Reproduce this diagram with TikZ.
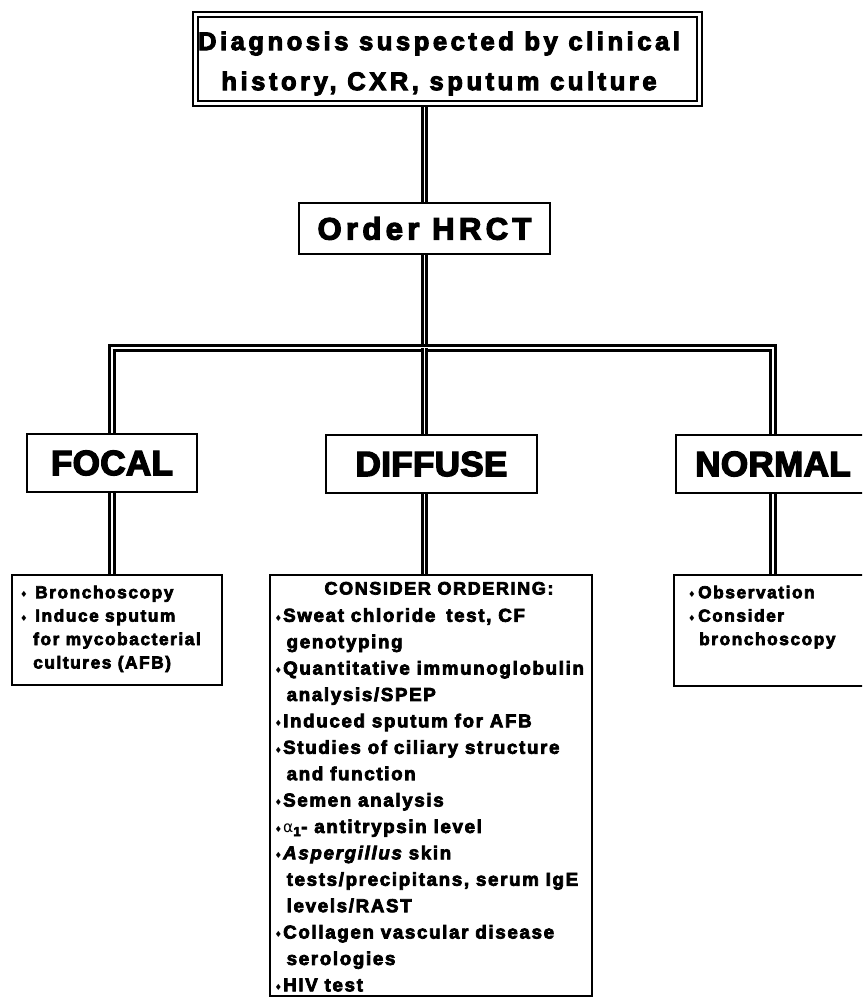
\documentclass[tikz,border=0pt]{standalone}
\usepackage{fontspec}
\usetikzlibrary{backgrounds}
% heavy sans faces: wide tracking for running text, tight for the big labels
\newfontfamily\wideheavy{Liberation Sans Bold}[FakeBold=4, LetterSpace=14]
\newfontfamily\tightheavy{Liberation Sans Bold}[FakeBold=4, LetterSpace=1]
\newfontfamily\bodyfont{Liberation Sans Bold}[FakeBold=4, LetterSpace=9]
\newfontfamily\bodyitfont{Liberation Sans Bold Italic}[FakeBold=4, LetterSpace=9]
\newfontfamily\symfont{DejaVu Sans}
% bullet box width and hanging indent, set per list
\newlength\bulw
\newlength\indw
\newcommand\bulmark{\makebox[\bulw][l]{\raisebox{0.6pt}{\symfont\fontsize{8.5}{8.5}\selectfont ♦}}}
\newcommand\bulind{\hspace*{\indw}}
\begin{document}
\begin{tikzpicture}[x=1pt,y=-1pt,
  link/.style={draw=black, line width=3pt, double=white, double distance=1.5pt},
  headbox/.style={draw=black, line width=1.9pt, fill=white, inner sep=0pt},
  listbox/.style={draw=black, line width=1.7pt, fill=white, inner sep=0pt},
  listtext/.style 2 args={anchor=north west, inner sep=0pt, align=left,
    font=\bodyfont\fontsize{17.3}{23.4}\selectfont,
    execute at begin node={\global\bulw=#1\global\indw=#2}},
  bigword/.style={font=\tightheavy\fontsize{35}{40}\selectfont},
]
\useasboundingbox (0,0) rectangle (862,998);
\clip (0,0) rectangle (862,998);

% top box with double frame
\node[headbox, double, line width=1.7pt, double distance=3.4pt,
      minimum width=504pt, minimum height=89pt] (top) at (447.5,59) {};
\node[inner sep=0pt, align=center, font=\wideheavy\fontsize{25.5}{40}\selectfont]
  (toplbl) at (439,63.5) {Diagnosis suspected by clinical\\history, CXR, sputum culture};

\node[headbox, minimum width=251pt, minimum height=51pt,
      font=\wideheavy\fontsize{31}{36}\selectfont] (hrct) at (424.5,228.5) {Order HRCT};

% result boxes
\node[headbox, bigword, minimum width=170pt, minimum height=58pt] (focal) at (112,463) {FOCAL};
\node[headbox, bigword, minimum width=211pt, minimum height=58pt] (diffuse) at (431.5,464) {DIFFUSE};
\node[headbox, bigword, minimum width=194pt, minimum height=58pt] (normal) at (773,464) {NORMAL};

% follow-up boxes
\node[listbox, minimum width=210pt, minimum height=110pt] (fdet) at (117,630) {};
\node[listbox, minimum width=322pt, minimum height=421pt] (ddet) at (431,785.5) {};
\node[listbox, minimum width=198pt, minimum height=111pt] (ndet) at (773,630.5) {};

\node[listtext={15pt}{13pt}] (ftxt) at (20,585.5) {\bulmark Bronchoscopy\\
  \bulmark Induce sputum\\
  \bulind for mycobacterial\\
  \bulind cultures (AFB)};

\node[anchor=base, inner sep=0pt, font=\bodyfont\fontsize{18}{20}\selectfont]
  (dhead) at (439,594.5) {CONSIDER ORDERING:};
\node[listtext={8.5pt}{12pt}, font=\bodyfont\fontsize{18.7}{26.4}\selectfont] (dtxt) at (274.5,608) {%
  \bulmark Sweat chloride\hspace{4pt} test, CF\\
  \bulind genotyping\\
  \bulmark Quantitative immunoglobulin\\
  \bulind analysis/SPEP\\
  \bulmark Induced sputum for AFB\\
  \bulmark Studies of ciliary structure\\
  \bulind and function\\
  \bulmark Semen analysis\\
  \bulmark {\symfont\fontsize{15.5}{15.5}\selectfont α}\textsubscript{1}- antitrypsin level\\
  \bulmark {\bodyitfont Aspergillus} skin\\
  \bulind tests/precipitans, serum IgE\\
  \bulind levels/RAST\\
  \bulmark Collagen vascular disease\\
  \bulind serologies\\
  \bulmark HIV test};

\node[listtext={10pt}{11pt}] (ntxt) at (688,585.5) {\bulmark Observation\\
  \bulmark Consider\\
  \bulind bronchoscopy};

% double-line connectors, kept behind the boxes
\coordinate (jn) at (424.5,348);
\begin{scope}[on background layer]
  \draw[link] (top.south -| hrct.north) -- (hrct.north);
  \draw[link] (hrct.south) -- (jn);
  \draw[link] (focal.north) |- (jn) -| (normal.north);
  \draw[link] (jn) -- (jn |- diffuse.north);
  \draw[link] (focal.south) -- (focal.south |- fdet.north);
  \draw[link] (diffuse.south -| jn) -- (ddet.north -| jn);
  \draw[link] (normal.south) -- (normal.south |- ndet.north);
\end{scope}
\end{tikzpicture}
\end{document}
